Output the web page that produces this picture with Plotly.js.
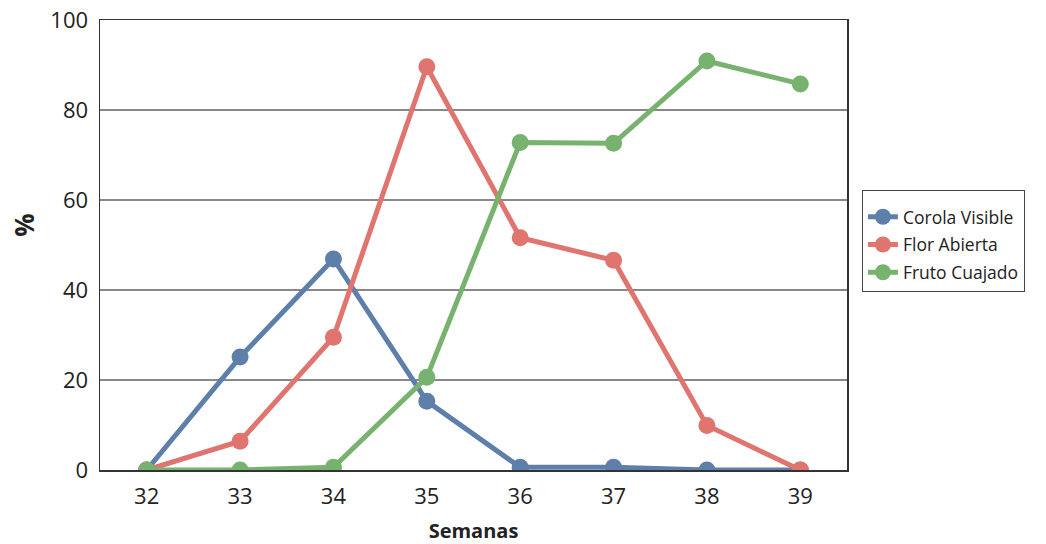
<!DOCTYPE html>
<html>
<head>
<meta charset="utf-8">
<script src="https://cdn.plot.ly/plotly-3.0.1.min.js"></script>
<style>html,body{margin:0;padding:0;background:#fff;}</style>
</head>
<body>
<div id="chart" style="width:1046px;height:544px;"></div>
<script>
const semanas = [32, 33, 34, 35, 36, 37, 38, 39];
const corolaVisible = [0, 25.1, 46.9, 15.3, 0.6, 0.6, 0, 0];
const florAbierta = [0, 6.4, 29.5, 89.6, 51.6, 46.6, 9.9, 0];
const frutoCuajado = [0, 0, 0.6, 20.6, 72.8, 72.6, 90.9, 85.8];
const seriesNames = ["Corola Visible", "Flor Abierta", "Fruto Cuajado"];
const colors = ["#5f7fab", "#e0746f", "#77b36f"];
const allValues = [corolaVisible, florAbierta, frutoCuajado];

const font = "Open Sans, Noto Sans, sans-serif";
const traces = allValues.map((vals, i) => ({
  x: semanas, y: vals, name: seriesNames[i], type: "scatter", mode: "lines+markers",
  legendgroup: "g" + i,
  line: {color: colors[i], width: 5},
  marker: {color: colors[i], size: 17}
}));

const layout = {
  width: 1046, height: 544,
  margin: {l: 100, r: 199, t: 20, b: 74},
  paper_bgcolor: "#fff", plot_bgcolor: "#fff",
  showlegend: true,
  legend: {x: 1.02, y: 0.622, xanchor: "left", yanchor: "top",
    bordercolor: "#444", borderwidth: 1, font: {family: font, size: 17.5, color: "#222"},
    title: {text: " ", font: {size: 6}},
    tracegroupgap: 2, itemwidth: 30},
  xaxis: {range: [31.5, 39.5], tickvals: semanas, ticktext: semanas.map(String),
    showgrid: false, zeroline: false, showline: true, linecolor: "#333", linewidth: 1.5, mirror: true,
    ticks: "", ticklabelstandoff: 6, tickfont: {family: font, size: 22, color: "#222"},
    title: {text: "<b>Semanas</b>", font: {family: font, size: 20, color: "#222"}, standoff: 16}},
  yaxis: {range: [0, 100], tickvals: [0, 20, 40, 60, 80, 100],
    showgrid: true, gridcolor: "#888", gridwidth: 1.2, zeroline: false,
    showline: true, linecolor: "#333", linewidth: 1.5, mirror: true,
    ticks: "", ticklabelstandoff: 6, tickfont: {family: font, size: 22, color: "#222"}},
  annotations: [{text: "<b>%</b>", xref: "paper", yref: "paper", x: -0.101, y: 0.544,
    xanchor: "center", yanchor: "middle", textangle: -90, showarrow: false,
    font: {family: font, size: 26, color: "#222"}}]
};
Plotly.newPlot("chart", traces, layout, {displayModeBar: false, staticPlot: true});
</script>
</body>
</html>
